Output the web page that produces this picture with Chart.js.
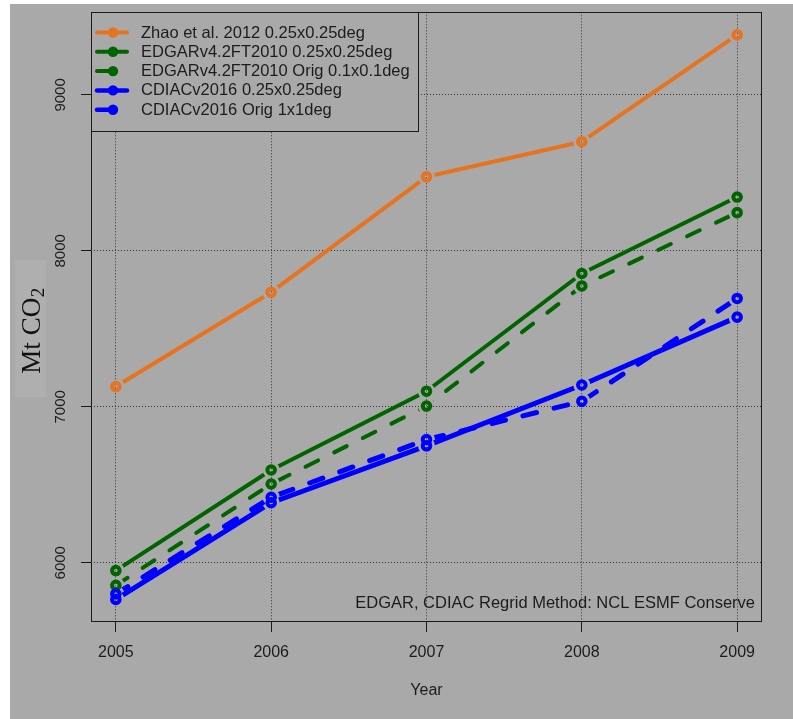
<!DOCTYPE html>
<html>
<head>
<meta charset="utf-8">
<script src="https://cdn.jsdelivr.net/npm/chart.js@4/dist/chart.umd.min.js"></script>
<style>
  html, body { margin: 0; padding: 0; background: #ffffff; }
  #wrap { width: 793px; height: 719px; }
</style>
</head>
<body>
<div id="wrap"><canvas id="c" width="793" height="719"></canvas></div>
<script>
// Annual CO2 emission totals (Mt CO2), 2005-2009
const years = [2005, 2006, 2007, 2008, 2009];
const yTicks = [6000, 7000, 8000, 9000];

const zhao2012 = [7130, 7735, 8475, 8700, 9385];
const edgarRegrid = [5950, 6595, 7100, 7855, 8345];
const edgarOrig = [5855, 6505, 7005, 7775, 8245];
const cdiacRegrid = [5765, 6385, 6750, 7140, 7575];
const cdiacOrig = [5800, 6420, 6790, 7035, 7695];

const seriesNames = [
  'Zhao et al. 2012 0.25x0.25deg',
  'EDGARv4.2FT2010 0.25x0.25deg',
  'EDGARv4.2FT2010 Orig 0.1x0.1deg',
  'CDIACv2016 0.25x0.25deg',
  'CDIACv2016 Orig 1x1deg'
];
const noteText = 'EDGAR, CDIAC Regrid Method: NCL ESMF Conserve';

const ORANGE = '#e8731f';
const GREEN = '#006400';
const BLUE = '#0000ff';
const PANEL = '#a9a9a9';
const INK = '#1c1c1c';
const SANS = '"Liberation Sans", Arial, sans-serif';
const DASH = [14, 18];
const GAP = 8.5;

const seriesValues = [zhao2012, edgarRegrid, edgarOrig, cdiacRegrid, cdiacOrig];
const seriesStyle = [
  { color: ORANGE, width: 4, dash: [] },
  { color: GREEN, width: 4, dash: [] },
  { color: GREEN, width: 4, dash: DASH },
  { color: BLUE, width: 5, dash: [] },
  { color: BLUE, width: 5, dash: DASH }
];

// axis limits padded by 4% of the data range on each side
const allVals = seriesValues.flat();
const yLo = Math.min(...allVals), yHi = Math.max(...allVals);
const yPad = (yHi - yLo) * 0.04;
const xPad = (years[years.length - 1] - years[0]) * 0.04;

const datasets = seriesValues.map((vals, i) => ({
  label: seriesNames[i],
  data: years.map((yr, k) => ({ x: yr, y: vals[k] })),
  borderColor: seriesStyle[i].color,
  borderWidth: seriesStyle[i].width,
  borderDash: seriesStyle[i].dash,
  borderCapStyle: 'round',
  borderJoinStyle: 'round',
  pointRadius: 3.8,
  pointBorderWidth: 4,
  pointBorderColor: seriesStyle[i].color,
  pointBackgroundColor: 'rgba(0,0,0,0)',
  pointHoverRadius: 3.8,
  tension: 0,
  fill: false,
  order: seriesValues.length - 1 - i
}));

// page background, y-axis label
const backdrop = {
  id: 'backdrop',
  beforeDraw(chart) {
    const ctx = chart.ctx;
    ctx.save();
    ctx.fillStyle = '#ffffff';
    ctx.fillRect(0, 0, chart.width, chart.height);
    ctx.fillStyle = PANEL;
    ctx.fillRect(10, 4, chart.width - 10, chart.height - 4);
    ctx.fillStyle = '#afafaf';
    ctx.fillRect(15, 260, 31, 137);
    // "Mt CO2" with subscript, rotated
    ctx.translate(33, 331);
    ctx.rotate(-Math.PI / 2);
    ctx.fillStyle = '#111';
    ctx.textBaseline = 'middle';
    ctx.font = '27px "Liberation Serif", "Times New Roman", serif';
    const w1 = ctx.measureText('Mt CO').width;
    ctx.font = '19px "Liberation Serif", "Times New Roman", serif';
    const w2 = ctx.measureText('2').width;
    const x0 = -(w1 + w2) / 2;
    ctx.font = '27px "Liberation Serif", "Times New Roman", serif';
    ctx.fillText('Mt CO', x0, 0);
    ctx.font = '19px "Liberation Serif", "Times New Roman", serif';
    ctx.fillText('2', x0 + w1 + 0.5, 6);
    ctx.restore();
  }
};

// lines stop short of each point marker, like type="b" plots
const pointGaps = {
  id: 'pointGaps',
  beforeDatasetDraw(chart, args) {
    const ctx = chart.ctx;
    ctx.save();
    ctx.beginPath();
    ctx.rect(0, 0, chart.width, chart.height);
    args.meta.data.forEach(pt => {
      ctx.moveTo(pt.x + GAP, pt.y);
      ctx.arc(pt.x, pt.y, GAP, 0, Math.PI * 2);
    });
    ctx.clip('evenodd');
  },
  afterDatasetDraw(chart, args) {
    const ctx = chart.ctx;
    ctx.restore();
    args.meta.data.forEach(pt => pt.draw(ctx, chart.chartArea));
  }
};

// plot frame, legend box and method note
const frameAndLegend = {
  id: 'frameAndLegend',
  afterDraw(chart) {
    const ctx = chart.ctx;
    const a = chart.chartArea;
    ctx.save();
    ctx.strokeStyle = '#1a1a1a';
    ctx.lineWidth = 1;
    ctx.setLineDash([]);
    ctx.strokeRect(Math.round(a.left) + 0.5, Math.round(a.top) + 0.5,
      Math.round(a.right - a.left) - 1, Math.round(a.bottom - a.top) - 1);

    // legend
    const lx = Math.round(a.left) + 0.5, ly = Math.round(a.top) + 0.5;
    const lw = 327, lh = 119;
    ctx.fillStyle = PANEL;
    ctx.fillRect(lx, ly, lw, lh);
    ctx.strokeRect(lx, ly, lw, lh);
    const rowY = [32.5, 51.8, 71.1, 90.4, 109.7];
    seriesStyle.forEach((s, i) => {
      const y = rowY[i];
      ctx.save();
      ctx.strokeStyle = s.color;
      ctx.lineWidth = s.width === 5 ? 4.5 : 4;
      ctx.lineCap = 'round';
      ctx.setLineDash(s.dash);
      ctx.beginPath();
      ctx.moveTo(97, y);
      ctx.lineTo(127, y);
      ctx.stroke();
      ctx.setLineDash([]);
      ctx.fillStyle = s.color;
      ctx.beginPath();
      ctx.arc(113, y, 5.2, 0, Math.PI * 2);
      ctx.fill();
      ctx.restore();
      ctx.fillStyle = INK;
      ctx.font = '16.5px ' + SANS;
      ctx.textAlign = 'left';
      ctx.textBaseline = 'middle';
      ctx.fillText(seriesNames[i], 141, y + 0.5);
    });

    // note
    ctx.fillStyle = INK;
    ctx.font = '16.5px ' + SANS;
    ctx.textAlign = 'right';
    ctx.textBaseline = 'middle';
    ctx.fillText(noteText, 755, 603);
    ctx.restore();
  }
};

new Chart(document.getElementById('c'), {
  type: 'line',
  data: { datasets },
  plugins: [backdrop, pointGaps, frameAndLegend],
  options: {
    responsive: false,
    animation: false,
    devicePixelRatio: 1,
    layout: { padding: { left: 0, right: 31, top: 11, bottom: 0 } },
    plugins: { legend: { display: false }, tooltip: { enabled: false } },
    scales: {
      x: {
        type: 'linear',
        min: years[0] - xPad,
        max: years[years.length - 1] + xPad,
        afterBuildTicks: s => { s.ticks = years.map(v => ({ value: v })); },
        afterFit: s => { s.height = 97; },
        ticks: {
          autoSkip: false, maxRotation: 0, padding: 11,
          color: INK, font: { family: SANS, size: 16 },
          callback: v => String(v)
        },
        grid: {
          color: '#333333', lineWidth: 1, tickLength: 10,
          tickColor: '#1a1a1a', tickWidth: 1, tickBorderDash: []
        },
        border: { display: false, dash: [1, 2] },
        title: {
          display: true, text: 'Year', color: INK,
          font: { family: SANS, size: 16 },
          padding: { top: 0, bottom: 18.4 }
        }
      },
      y: {
        type: 'linear',
        min: yLo - yPad,
        max: yHi + yPad,
        afterBuildTicks: s => { s.ticks = yTicks.map(v => ({ value: v })); },
        afterFit: s => { s.width = 91; },
        ticks: {
          minRotation: 90, maxRotation: 90, crossAlign: 'center', padding: 3.3,
          color: INK, font: { family: SANS, size: 15 },
          callback: v => String(v)
        },
        grid: {
          color: '#333333', lineWidth: 1, tickLength: 10,
          tickColor: '#1a1a1a', tickWidth: 1, tickBorderDash: []
        },
        border: { display: false, dash: [1, 2] }
      }
    }
  }
});
</script>
</body>
</html>
